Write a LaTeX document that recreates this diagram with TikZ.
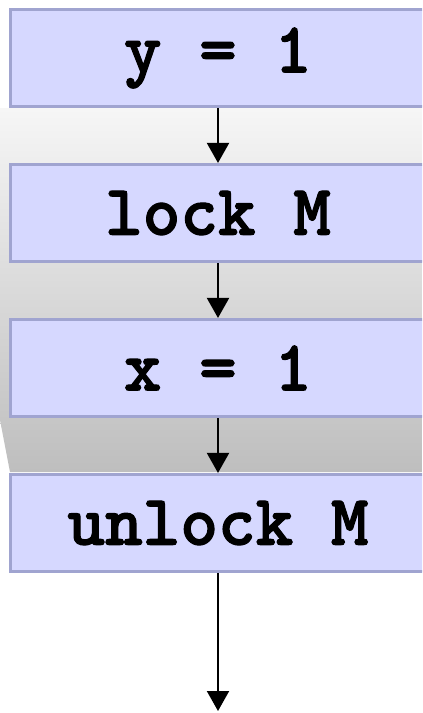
\documentclass[tikz,border=0pt]{standalone}
\usepackage{fontspec}
\newfontfamily\codefont{Latin Modern Mono Light}[BoldFeatures={FakeBold=1.6}]
\usetikzlibrary{arrows.meta}
\definecolor{stmtfill}{RGB}{214,216,255}
\definecolor{stmtdraw}{RGB}{160,164,208}
\definecolor{regiontop}{RGB}{246,246,246}
\definecolor{regionbot}{RGB}{190,190,190}
\tikzstyle{stmt} = [rectangle, minimum width=10.375cm, minimum height=2.425cm, text centered, draw=stmtdraw, line width=2.2pt, fill=stmtfill, font=\fontsize{51}{56}\selectfont\codefont\bfseries]
\tikzstyle{arrow} = [line width=1.4pt,->,>={Triangle[length=0.5cm,width=0.55cm]}]

\begin{document}
\begin{tikzpicture}[node distance=3.875cm]
    % Page frame
    \clip (0,0) rectangle (10.55,-17.825);
    % Shaded region behind the critical section
    \shade [top color=regiontop, bottom color=regionbot] (0,-2.7) -- (10.55,-2.7) -- (10.55,-11.8) -- (0.25,-11.8) -- (0,-10.5) -- cycle;

    % Nodes
    \node (ystore) [stmt] at (5.45,-1.45) {y = 1};
    \node (lockm) [stmt, below of=ystore] {lock M};
    \node (xstore) [stmt, below of=lockm] {x = 1};
    \node (unlockm) [stmt, below of=xstore] {unlock M};
    \coordinate (exit) at (5.45,-17.775);

    % Arrows
    \draw [arrow] (ystore) -- (lockm);
    \draw [arrow] (lockm) -- (xstore);
    \draw [arrow] (xstore) -- (unlockm);
    \draw [arrow] (unlockm) -- (exit);
\end{tikzpicture}
\end{document}
